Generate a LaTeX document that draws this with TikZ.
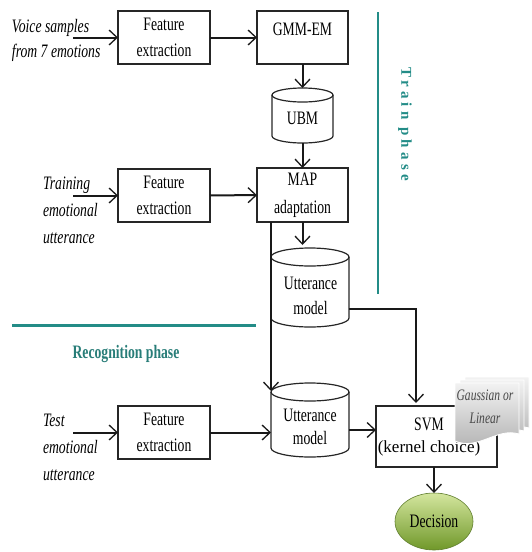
\documentclass[tikz,border=0pt]{standalone}
\usepackage{fontspec}
\setmainfont{Liberation Serif}[FakeStretch=0.72]
\newfontfamily\widefont{Liberation Serif}
\usetikzlibrary{arrows.meta,calc,shapes.geometric}
\definecolor{phaseteal}{RGB}{35,140,135}
\definecolor{rectext}{RGB}{40,125,120}
\definecolor{declight}{RGB}{212,230,158}
\definecolor{decdark}{RGB}{112,152,42}
\definecolor{decedge}{RGB}{95,125,45}
\newcommand\mainsz{\fontsize{19}{26}\selectfont}
\newcommand\cylshape[3]{%
  \draw[cyl] ($(#1.north)+(0,#3)$) ellipse [x radius=#2pt, y radius=#3pt];
  \draw[cyl] ($(#1.north west)+(0,#3)$) -- ($(#1.south west)+(0,-#3)$)
    arc [start angle=180, end angle=360, x radius=#2pt, y radius=#3pt]
    -- ($(#1.north east)+(0,#3)$);
}
\newcommand\docpage[2]{%
  \draw[draw=white, line width=0.8pt, top color=gray!10, bottom color=gray!62]
    (455+#1,383-#2) -- (519+#1,383-#2) -- (519+#1,434-#2)
    .. controls (497+#1,427-#2) and (478+#1,451-#2) .. (455+#1,441-#2) -- cycle;
}
\begin{document}
\begin{tikzpicture}[x=1pt,y=-1pt,
  every node/.style={inner sep=0pt, outer sep=0pt},
  box/.style={draw=black!85, line width=1.2pt, rectangle, align=center, font=\mainsz},
  cylbox/.style={rectangle, draw=none},
  lbl/.style={align=center, font=\mainsz},
  inlbl/.style={anchor=west, align=left, font=\fontsize{19}{27}\selectfont\itshape},
  arr/.style={draw=black!90, line width=2pt, -{Straight Barb[length=8pt,width=15pt,line width=1.3pt]}},
  cyl/.style={draw=black!85, line width=1.2pt},
  phaseline/.style={draw=phaseteal},
]
\useasboundingbox (0,0) rectangle (531,552);

% input labels
\node[inlbl, font=\fontsize{19}{25}\selectfont\itshape] (vs) at (12,40) {Voice samples\\from 7 emotions};
\node[inlbl] (tr) at (43,210) {Training\\emotional\\utterance};
\node[inlbl] (ts) at (43,447) {Test\\emotional\\utterance};
\coordinate (in1) at (73,37.5);
\coordinate (in2) at (73,195.5);
\coordinate (in3) at (73,432.5);

% boxes
\node[box, minimum width=92pt, minimum height=53pt] (fe1) at (164,37.5) {Feature\\extraction};
\node[box, minimum width=91pt, minimum height=53pt] (gmm) at (302.5,37.5) {};
\node[lbl] (gmmt) at (302.5,29) {GMM-EM};
\node[cylbox, minimum width=61pt, minimum height=55pt] (ubm) at (302.5,115.5) {};
\node[lbl] (ubmt) at (302.5,118) {UBM};
\node[box, minimum width=91pt, minimum height=54pt, font=\fontsize{19}{28}\selectfont] (map) at (302.5,195) {MAP\\adaptation};
\node[box, minimum width=92pt, minimum height=53pt] (fe2) at (164,195.5) {Feature\\extraction};
\node[cylbox, minimum width=78pt, minimum height=79pt] (um1) at (310,287.5) {};
\node[lbl, font=\fontsize{19}{25}\selectfont] (um1t) at (310.5,296) {Utterance\\model};
\node[cylbox, minimum width=78pt, minimum height=74pt] (um2) at (310,420) {};
\node[lbl, font=\fontsize{19}{23}\selectfont] (um2t) at (310,427) {Utterance\\model};
\node[box, minimum width=92pt, minimum height=53pt] (fe3) at (164,432.5) {Feature\\extraction};
\node[box, minimum width=121pt, minimum height=61pt] (svm) at (436.5,436.5) {};
\node[lbl, font=\fontsize{19}{22}\selectfont] (svmt) at (429,437.5) {SVM\\{\widefont\fontsize{17}{22}\selectfont (kernel choice)}};
\node[ellipse, minimum width=78pt, minimum height=57pt, top color=declight, bottom color=decdark,
      draw=decedge, line width=0.6pt, font=\mainsz] (dec) at (434,521.5) {Decision};

% cylinders
\cylshape{ubm}{30.5}{7}
\cylshape{um1}{39}{9}
\cylshape{um2}{39}{9}

% connectors
\draw[arr] (in1) -- (fe1.west);
\draw[arr] (fe1) -- (gmm);
\draw[arr] (gmm.south) -- (ubm.north);
\draw[arr] (ubm.south) -- (map.north);
\draw[arr] (in2) -- (fe2.west);
\draw[arr] (fe2) -- (map);
\draw[arr] (map.south) -- ($(map.south |- um1.north)+(0,-3)$);
\draw[arr] (map.south -| um2.west) -- ($(um2.north west)+(0,8)$);
\coordinate (u1o) at ($(um1.east)+(0,21.5)$);
\coordinate (svin) at ($(svm.north west)+(40,-3)$);
\draw[arr] (u1o) -| (svin);
\draw[arr] (in3) -- (fe3.west);
\draw[arr] (fe3.east) -- (fe3.east -| um2.west);
\coordinate (u2o) at ($(um2.east)+(0,10)$);
\draw[arr] (u2o) -- (u2o -| svm.west);
\draw[arr] (svm.south -| dec.north) -- (dec.north);

% kernel document
\docpage{10}{6}
\docpage{5}{3}
\docpage{0}{0}
\node[lbl, font=\fontsize{16}{23}\selectfont\itshape, text=black!72] (gl) at (485,407) {Gaussian or\\Linear};

% phases
\coordinate (tpa) at (378,12);
\coordinate (tpb) at (378,294);
\draw[phaseline, line width=2pt] (tpa) -- (tpb);
\node[rotate=-90, text=phaseteal, font=\widefont\bfseries\fontsize{15}{18}\selectfont\addfontfeature{LetterSpace=28}] (trph) at (405,124) {Train phase};
\coordinate (rpa) at (12,325);
\coordinate (rpb) at (256,325);
\draw[phaseline, line width=3pt] (rpa) -- (rpb);
\node[text=rectext, font=\bfseries\mainsz] (recph) at (126,354) {Recognition phase};
\end{tikzpicture}
\end{document}
